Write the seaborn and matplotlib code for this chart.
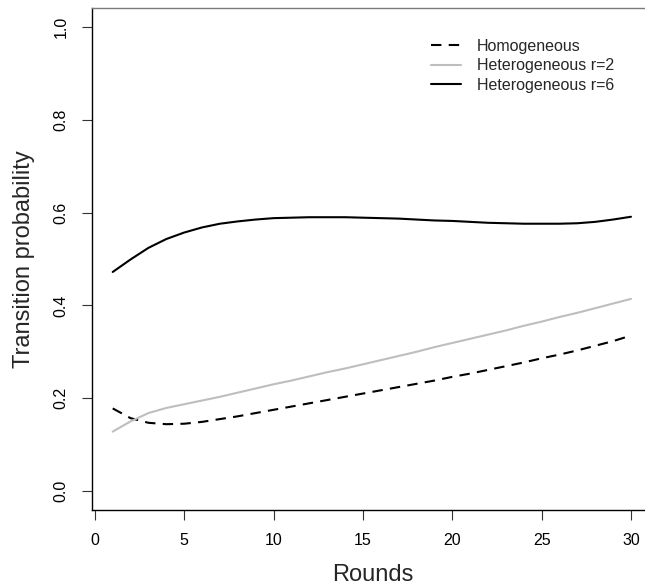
import numpy as np
import pandas as pd
import seaborn as sns
import matplotlib
matplotlib.use("Agg")
import matplotlib.pyplot as plt

# values
rounds = list(range(1, 31))
homogeneous = [0.178, 0.157, 0.147, 0.144, 0.145, 0.149, 0.155, 0.161, 0.168, 0.175,
               0.182, 0.189, 0.196, 0.203, 0.210, 0.217, 0.224, 0.231, 0.238, 0.246,
               0.253, 0.261, 0.269, 0.277, 0.286, 0.294, 0.303, 0.313, 0.323, 0.335]
hetero_r2 = [0.128, 0.150, 0.168, 0.179, 0.187, 0.195, 0.203, 0.212, 0.221, 0.230,
             0.238, 0.247, 0.256, 0.264, 0.273, 0.282, 0.291, 0.300, 0.310, 0.319,
             0.328, 0.337, 0.346, 0.356, 0.365, 0.375, 0.384, 0.394, 0.404, 0.414]
hetero_r6 = [0.472, 0.499, 0.524, 0.543, 0.557, 0.568, 0.576, 0.581, 0.585, 0.588,
             0.589, 0.590, 0.590, 0.590, 0.589, 0.588, 0.587, 0.585, 0.583, 0.582,
             0.580, 0.578, 0.577, 0.576, 0.576, 0.576, 0.577, 0.580, 0.585, 0.591]
labels = ["Homogeneous", "Heterogeneous r=2", "Heterogeneous r=6"]
x_ticks = [0, 5, 10, 15, 20, 25, 30]
y_ticks = [0.0, 0.2, 0.4, 0.6, 0.8, 1.0]

sns.set_style("ticks")
plt.rcParams["font.family"] = ["Liberation Sans", "DejaVu Sans"]

fig = plt.figure(figsize=(6.45, 5.87), dpi=100)
# right edge of the box falls outside the picture, as in the reference
ax = fig.add_axes([0.1426, 0.1319, 0.8678, 0.8538])

df = pd.DataFrame({"Rounds": rounds, labels[0]: homogeneous,
                   labels[1]: hetero_r2, labels[2]: hetero_r6})

sns.lineplot(data=df, x="Rounds", y=labels[0], ax=ax, color="black", lw=1.5,
             dashes=False, label=labels[0]).lines[-1].set_dashes((5, 3.5))
sns.lineplot(data=df, x="Rounds", y=labels[1], ax=ax, color="#bebebe", lw=1.5,
             label=labels[1])
sns.lineplot(data=df, x="Rounds", y=labels[2], ax=ax, color="black", lw=1.5,
             label=labels[2])

ax.set_xlim(-0.16, 31.16)
ax.set_ylim(-0.04, 1.04)
ax.set_xticks(x_ticks)
ax.set_yticks(y_ticks)
ax.set_yticklabels([f"{v:.1f}" for v in y_ticks], rotation=90, va="center")
ax.tick_params(axis="both", labelsize=11.5, length=7, width=0.8, pad=10,
               color="#333333", labelcolor="black")

for side in ["left", "bottom", "right", "top"]:
    ax.spines[side].set_visible(True)
    ax.spines[side].set_color("black")
    ax.spines[side].set_linewidth(1.0)
ax.spines["top"].set_color("#7a7a7a")

ax.set_xlabel("Rounds", fontsize=17)
ax.set_ylabel("Transition probability", fontsize=17)
ax.xaxis.set_label_coords(0.501, -0.130)
ax.xaxis.label.set_va("center")
ax.yaxis.set_label_coords(-0.1215, 0.5)
ax.yaxis.label.set_va("center")

ax.legend(loc="upper left", bbox_to_anchor=(431 / 645, 1 - 38.5 / 587),
          bbox_transform=fig.transFigure, frameon=False, fontsize=11.5,
          handlelength=1.9, handletextpad=0.95, labelspacing=0.3,
          borderpad=0, borderaxespad=0)

fig.savefig("out.png", dpi=100)
